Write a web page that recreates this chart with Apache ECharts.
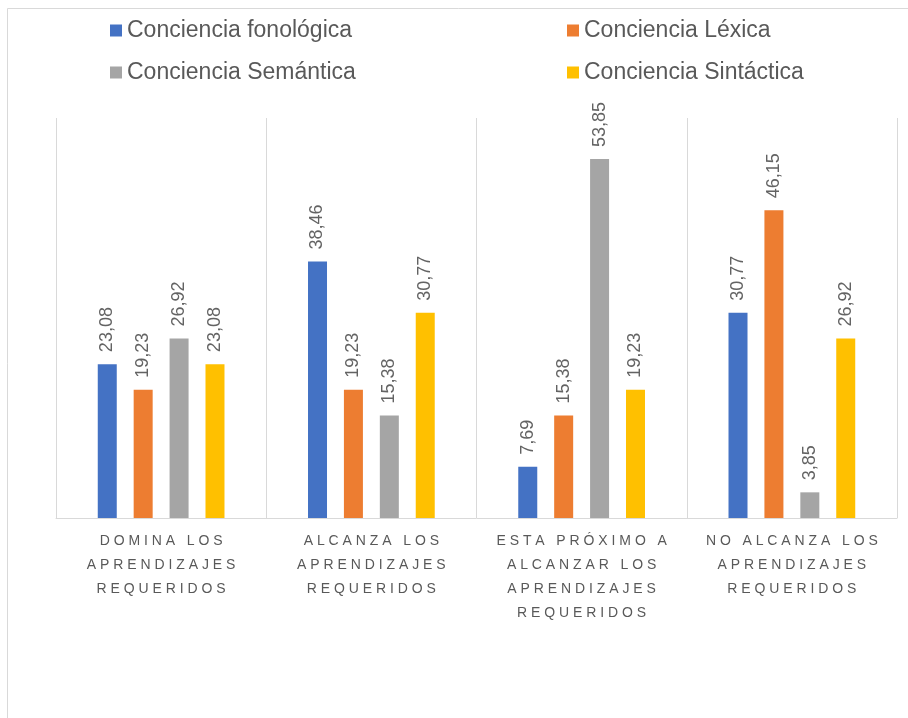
<!DOCTYPE html>
<html>
<head>
    <meta charset="utf-8"/>
    <title>Conciencia</title>
    <script src="https://cdn.jsdelivr.net/npm/echarts@6/dist/echarts.min.js"></script>
    <style>
        html, body { margin: 0; padding: 0; background: #fff; }
        #main { width: 908px; height: 718px; }
    </style>
</head>
<body>
<div id="main"></div>
<script type="text/javascript">
    // datos
    var categorias = [
        'DOMINA LOS\nAPRENDIZAJES\nREQUERIDOS',
        'ALCANZA LOS\nAPRENDIZAJES\nREQUERIDOS',
        'ESTA PRÓXIMO A\nALCANZAR LOS\nAPRENDIZAJES\nREQUERIDOS',
        'NO ALCANZA LOS\nAPRENDIZAJES\nREQUERIDOS'
    ];
    var fonologica = [23.08, 38.46, 7.69, 30.77];
    var lexica = [19.23, 19.23, 15.38, 46.15];
    var semantica = [26.92, 15.38, 53.85, 3.85];
    var sintactica = [23.08, 30.77, 19.23, 26.92];

    var nombres = ['Conciencia fonológica', 'Conciencia Léxica', 'Conciencia Semántica', 'Conciencia Sintáctica'];
    var colores = ['#4472c4', '#ed7d31', '#a5a5a5', '#ffc000'];
    var fuente = "'Liberation Sans', Arial, sans-serif";

    var myChart = echarts.init(document.getElementById('main'));

    // separa las letras para imitar el espaciado del original
    function espaciar(txt) {
        return txt.split('\n').map(function (l) {
            return l.split('').join(' ');
        }).join('\n');
    }

    function serie(nombre, datos, i) {
        return {
            name: nombre,
            type: 'bar',
            data: datos,
            barWidth: 19,
            barGap: '89%',
            itemStyle: {color: colores[i]},
            label: {
                show: true,
                position: 'top',
                rotate: 90,
                align: 'left',
                verticalAlign: 'middle',
                distance: 12,
                color: '#636363',
                fontSize: 18,
                fontFamily: fuente,
                formatter: function (p) {
                    return p.value.toFixed(2).replace('.', ',');
                }
            }
        };
    }

    function leyenda(nombre, left, top) {
        return {
            data: [nombre],
            left: left,
            top: top,
            padding: 0,
            icon: 'rect',
            itemWidth: 12,
            itemHeight: 12,
            textStyle: {color: '#595959', fontSize: 23, fontFamily: fuente}
        };
    }

    var option = {
        animation: false,
        backgroundColor: '#fff',
        graphic: [{
            type: 'rect',
            shape: {x: 7.5, y: 8.5, width: 940, height: 740},
            style: {fill: 'none', stroke: '#d9d9d9', lineWidth: 1}
        }],
        legend: [
            leyenda(nombres[0], 110, 19),
            leyenda(nombres[1], 567, 19),
            leyenda(nombres[2], 110, 61),
            leyenda(nombres[3], 567, 61)
        ],
        grid: {left: 56, right: 11, top: 118, bottom: 200},
        xAxis: {
            type: 'category',
            data: categorias,
            axisLine: {lineStyle: {color: '#d9d9d9', width: 1}},
            axisTick: {show: false},
            splitLine: {show: true, lineStyle: {color: '#d9d9d9', width: 1}},
            axisLabel: {
                interval: 0,
                margin: 11,
                color: '#595959',
                fontSize: 14,
                lineHeight: 24,
                fontFamily: fuente,
                formatter: espaciar
            }
        },
        yAxis: {
            type: 'value',
            min: 0,
            max: 60,
            show: false,
            splitLine: {show: false}
        },
        series: [
            serie(nombres[0], fonologica, 0),
            serie(nombres[1], lexica, 1),
            serie(nombres[2], semantica, 2),
            serie(nombres[3], sintactica, 3)
        ]
    };

    myChart.setOption(option);
</script>
</body>
</html>
